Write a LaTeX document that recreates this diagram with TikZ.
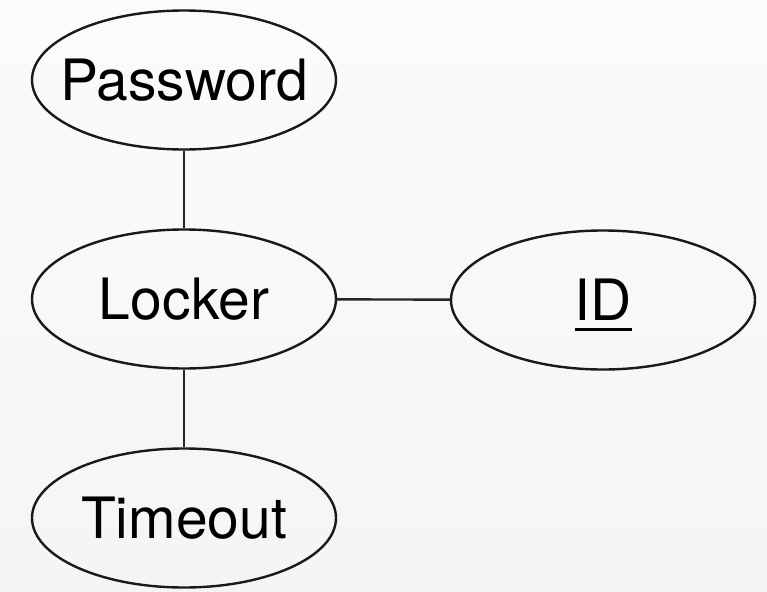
\documentclass[tikz,border=0pt]{standalone}
\usepackage{fontspec}
\setmainfont{TeX Gyre Heros}
\usetikzlibrary{shapes.geometric}
% underline drawn as a rule of fixed thickness below the baseline
\newcommand\keyul[1]{\setbox0\hbox{#1}\rlap{\rule[-10pt]{\wd0}{2.2pt}}\box0}
\tikzset{
  attr/.style={ellipse, draw=black!90, line width=2.4pt, fill=none,
    minimum width=304pt, minimum height=139pt, inner sep=0pt},
  attrtext/.style={inner sep=0pt, font=\fontsize{57}{68}\selectfont,
    text height=41pt, text depth=0pt},
  link/.style={draw=black!85, line width=2.4pt}
}
\begin{document}
\begin{tikzpicture}[x=1pt,y=-1pt]
  \shade[top color=gray!3, bottom color=gray!8] (0,0) rectangle (767,591);
  \useasboundingbox (0,0) rectangle (767,591);
  % attribute ellipses
  \node[attr] (password) at (184,80) {};
  \node[attr] (locker) at (184,299) {};
  \node[attr] (id) at (603,300) {};
  \node[attr] (timeout) at (184,518) {};
  % their labels
  \node[attrtext] (passwordlbl) at (password.center) {Password};
  \node[attrtext] (lockerlbl) at (locker.center) {Locker};
  \node[attrtext] (idlbl) at (id.center) {\keyul{ID}};
  \node[attrtext] (timeoutlbl) at (timeout.center) {Timeout};
  % connectors
  \draw[link] (password) -- (locker);
  \draw[link] (locker) -- (id);
  \draw[link] (locker) -- (timeout);
\end{tikzpicture}
\end{document}
